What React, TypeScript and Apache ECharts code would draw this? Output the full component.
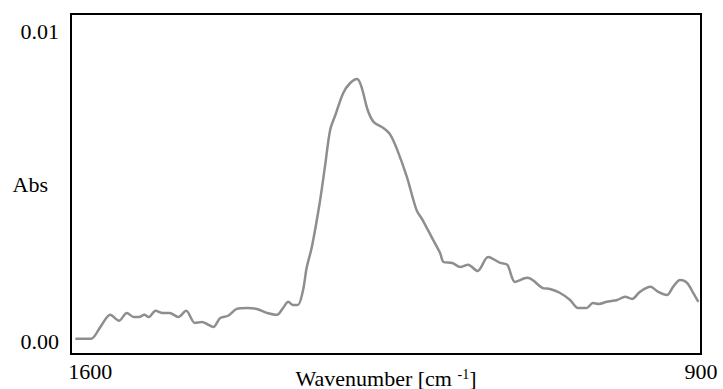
import React, { useEffect, useRef } from "react";
import * as echarts from "echarts";

const wavenumbers = [
  1617, 1599, 1589, 1577, 1567, 1558, 1550, 1544, 1538, 1533, 1525, 1517, 1509, 1499, 1490,
  1480, 1472, 1459, 1451, 1442, 1432, 1420, 1409, 1397, 1386, 1379, 1373, 1368, 1362, 1356,
  1352, 1346, 1337, 1331, 1325, 1319, 1310, 1302, 1294, 1289, 1282, 1275, 1264, 1256,
  1248, 1237, 1226, 1219, 1207, 1199, 1195, 1185, 1176, 1167, 1156, 1144, 1130, 1122, 1113,
  1099, 1093, 1082, 1073, 1062, 1050, 1041, 1031, 1024, 1017, 1008, 996, 987, 979, 970,
  958, 949, 939, 932, 924, 916, 909, 903,
];

const absorbance = [
  0.0001, 0.0001, 0.00045, 0.00087, 0.00068, 0.00093, 0.0008, 0.0008, 0.00087, 0.0008, 0.001,
  0.00093, 0.00093, 0.0008, 0.001, 0.00061, 0.00064, 0.00048, 0.00077, 0.00084, 0.00106,
  0.00109, 0.00106, 0.00093, 0.00087, 0.00109, 0.00129, 0.00119, 0.00119, 0.00167, 0.00238,
  0.00305, 0.00447, 0.00563, 0.00682, 0.0073, 0.00801, 0.00833, 0.00846, 0.0082,
  0.00746, 0.00707, 0.00688, 0.00666, 0.00617, 0.0053, 0.00424, 0.00392, 0.00328, 0.00286,
  0.00257, 0.00254, 0.00241, 0.00248, 0.00228, 0.00273, 0.00254, 0.00248, 0.00193, 0.00206,
  0.00199, 0.00174, 0.0017, 0.00158, 0.00135, 0.00109, 0.00109, 0.00125, 0.00122, 0.00129,
  0.00135, 0.00145, 0.00138, 0.00161, 0.00177, 0.00161, 0.00151, 0.00177, 0.00199, 0.0019,
  0.00158, 0.00129,
];

const xTickValues = [1600, 900];
const yTickValues = [0, 0.01];

export default function App() {
  const ref = useRef<HTMLDivElement>(null);
  useEffect(() => {
    if (!ref.current) return;
    const chart = echarts.init(ref.current, null, { renderer: "svg" });
    const font = "'Liberation Serif', 'Times New Roman', serif";
    chart.setOption({
      animation: false,
      backgroundColor: "#ffffff",
      grid: {
        left: 71,
        right: 22,
        top: 14,
        bottom: 35,
        containLabel: false,
        outerBoundsMode: "none",
        show: true,
        borderColor: "#000",
        borderWidth: 2,
        backgroundColor: "transparent",
      },
      xAxis: {
        type: "value",
        inverse: true,
        min: 900,
        max: 1622,
        axisLine: { show: false },
        axisTick: { show: false },
        splitLine: { show: false },
        axisLabel: {
          customValues: xTickValues,
          color: "#000",
          fontFamily: font,
          fontSize: 22,
          margin: 6,
          formatter: (v: number) => String(v),
        },
        name: "Wavenumber [cm {sup|-1}]",
        nameLocation: "middle",
        nameGap: 13,
        nameMoveOverlap: false,
        nameTextStyle: {
          color: "#000",
          fontFamily: font,
          fontSize: 22,
          rich: {
            sup: {
              fontFamily: font,
              fontSize: 14,
              color: "#000",
              verticalAlign: "top",
              padding: [0, 0, 8, 0],
            },
          },
        },
      },
      yAxis: {
        type: "value",
        min: -0.00039,
        max: 0.01055,
        axisLine: { show: false },
        axisTick: { show: false },
        splitLine: { show: false },
        axisLabel: {
          customValues: yTickValues,
          color: "#000",
          fontFamily: font,
          fontSize: 22,
          margin: 12,
          formatter: (v: number) => v.toFixed(2),
        },
        name: "Abs",
        nameLocation: "middle",
        nameRotate: 0,
        nameGap: 23,
        nameMoveOverlap: false,
        nameTextStyle: {
          color: "#000",
          fontFamily: font,
          fontSize: 22,
        },
      },
      series: [
        {
          type: "line",
          data: wavenumbers.map((w, i) => [w, absorbance[i]]),
          showSymbol: false,
          smooth: 0.3,
          lineStyle: { color: "#8e8e8e", width: 2.5 },
        },
      ],
    });
    return () => chart.dispose();
  }, []);
  return (
    <div
      ref={ref}
      style={{ position: "fixed", left: 0, top: 0, width: 723, height: 389 }}
    />
  );
}
